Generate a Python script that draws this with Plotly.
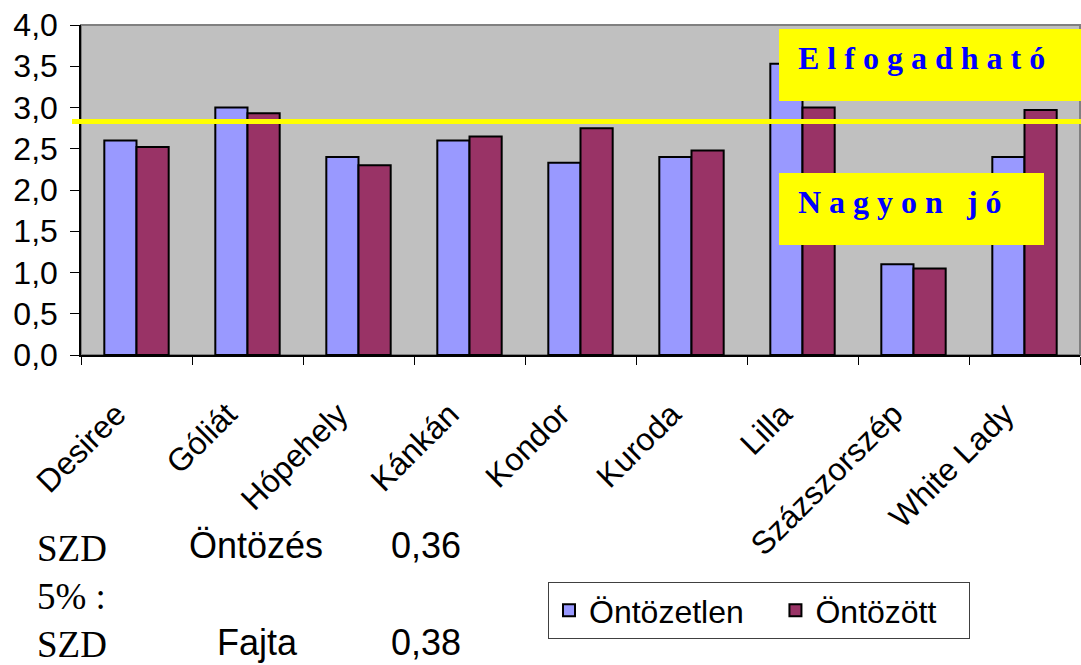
import plotly.graph_objects as go

# Potato varieties and their scores
varieties = ["Desiree", "Góliát", "Hópehely", "Kánkán", "Kondor",
             "Kuroda", "Lilla", "Százszorszép", "White Lady"]
unirrigated = [2.60, 3.00, 2.40, 2.60, 2.33, 2.40, 3.53, 1.10, 2.40]
irrigated = [2.52, 2.93, 2.30, 2.65, 2.75, 2.48, 3.00, 1.05, 2.97]
threshold = 2.83
y_ticks = [0, 0.5, 1, 1.5, 2, 2.5, 3, 3.5, 4]

W, H = 1081, 665
L, R, T, B = 81, 1080, 25, 355


def px_x(x):
    return (x - L) / (R - L)


def px_y(y):
    return (B - y) / (B - T)


fig = go.Figure()
fig.add_trace(go.Bar(
    x=varieties, y=unirrigated, name="Öntözetlen\u00a0\u00a0\u00a0",
    marker=dict(color="#9999ff", line=dict(color="black", width=2)),
))
fig.add_trace(go.Bar(
    x=varieties, y=irrigated, name="Öntözött\u00a0\u00a0\u00a0",
    marker=dict(color="#993366", line=dict(color="black", width=2)),
))

shapes = [
    # plot area frame
    dict(type="rect", xref="paper", yref="paper", x0=0, x1=1, y0=0, y1=1,
         line=dict(color="#808080", width=2), layer="below"),
    # threshold line
    dict(type="line", xref="paper", yref="y", x0=px_x(72), x1=1.002,
         y0=threshold, y1=threshold, line=dict(color="#ffff00", width=5)),
    # label boxes
    dict(type="rect", xref="paper", yref="paper", x0=px_x(779), x1=px_x(1082),
         y0=px_y(101), y1=px_y(29), fillcolor="#ffff00", line=dict(width=0)),
    dict(type="rect", xref="paper", yref="paper", x0=px_x(779), x1=px_x(1044),
         y0=px_y(245), y1=px_y(173), fillcolor="#ffff00", line=dict(width=0)),
]

box_font = dict(family="Liberation Serif", size=32, color="#0000ff")
serif = dict(family="Liberation Serif", size=37, color="black")
sans = dict(family="Liberation Sans", size=36, color="black")

annotations = [
    dict(text="<b>E l f o g a d h a t ó</b>", x=px_x(796), y=px_y(58),
         xanchor="left", yanchor="middle", font=box_font),
    dict(text="<b>N a g y o n \u00a0 j ó</b>", x=px_x(796), y=px_y(202),
         xanchor="left", yanchor="middle", font=box_font),
    dict(text="SZD", x=px_x(35), y=px_y(548), xanchor="left", yanchor="middle", font=serif),
    dict(text="5% :", x=px_x(35), y=px_y(596), xanchor="left", yanchor="middle", font=serif),
    dict(text="SZD", x=px_x(35), y=px_y(644), xanchor="left", yanchor="middle", font=serif),
    dict(text="Öntözés", x=px_x(187), y=px_y(545), xanchor="left", yanchor="middle", font=sans),
    dict(text="Fajta", x=px_x(215), y=px_y(642), xanchor="left", yanchor="middle", font=sans),
    dict(text="0,36", x=px_x(389), y=px_y(545), xanchor="left", yanchor="middle", font=sans),
    dict(text="0,38", x=px_x(389), y=px_y(642), xanchor="left", yanchor="middle", font=sans),
]
for a in annotations:
    a.update(xref="paper", yref="paper", showarrow=False)

fig.update_layout(
    width=W, height=H,
    margin=dict(l=L, r=W - R, t=T, b=H - B),
    paper_bgcolor="white",
    plot_bgcolor="#c0c0c0",
    separators=", ",
    barmode="group",
    bargap=0.42,
    bargroupgap=0,
    shapes=shapes,
    annotations=annotations,
    showlegend=True,
    legend=dict(
        orientation="h", x=px_x(548), y=px_y(582), xanchor="left", yanchor="top",
        bgcolor="white", bordercolor="#404040", borderwidth=1,
        font=dict(family="Liberation Sans", size=32, color="black"),
        itemwidth=30,
    ),
    font=dict(family="Liberation Sans", color="black"),
)
fig.update_xaxes(
    type="category", tickangle=-45, tickson="boundaries",
    ticks="outside", ticklen=8, tickcolor="black", tickwidth=1,
    ticklabelstandoff=26, ticklabelshift=-20,
    showline=True, linecolor="black", linewidth=1.5,
    showgrid=False, tickfont=dict(size=32, family="Liberation Sans"),
)
fig.update_yaxes(
    range=[0, 4], tickvals=y_ticks, tickformat=".1f",
    ticks="outside", ticklen=9, tickcolor="black", tickwidth=1,
    ticklabelstandoff=6,
    showline=True, linecolor="black", linewidth=1.5,
    showgrid=False, zeroline=False, tickfont=dict(size=32, family="Liberation Sans"),
)

fig.write_html("out.html")
